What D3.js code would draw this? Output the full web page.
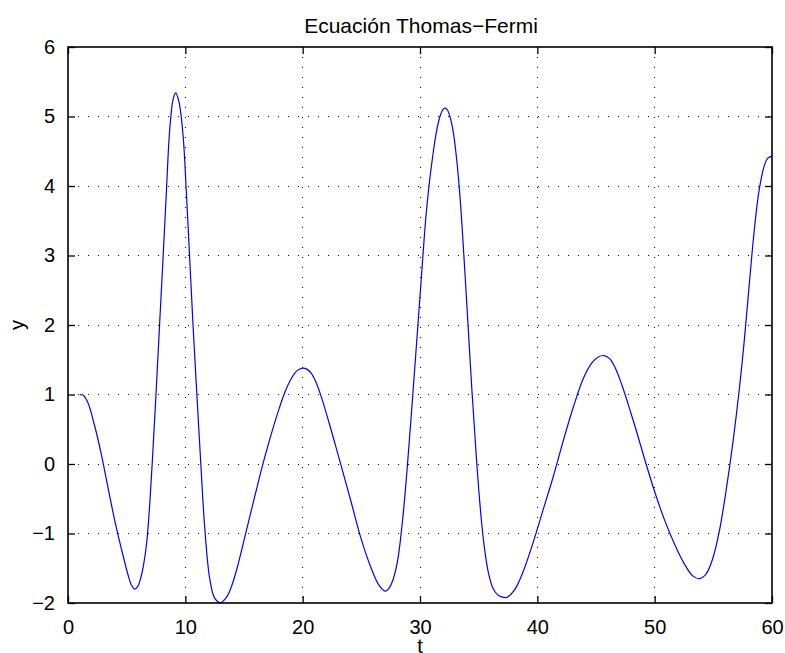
<!DOCTYPE html>
<html>
<head>
<meta charset="utf-8">
<script src="https://cdn.jsdelivr.net/npm/d3@7"></script>
<style>
  body { margin: 0; background: #fff; }
  svg { display: block; }
  text { font-family: "Liberation Sans", Arial, Helvetica, sans-serif; fill: #000; }
</style>
</head>
<body>
<svg id="chart" width="785" height="653"></svg>
<script>
// Labels and ticks
const titleText = "Ecuación Thomas−Fermi";
const xLabelText = "t";
const yLabelText = "y";
const xTickValues = [0, 10, 20, 30, 40, 50, 60];
const yTickValues = [-2, -1, 0, 1, 2, 3, 4, 5, 6];

// Solution samples y(t)
const tValues = [
  1.00, 1.30, 1.70, 2.27, 2.84, 3.41, 3.98, 4.55, 5.11, 5.40,
  5.68, 5.95, 6.20, 6.45, 6.70, 6.95, 7.24, 7.53, 7.81, 8.10,
  8.38, 8.66, 8.95, 9.18, 9.46, 9.80, 10.09, 10.37, 10.65, 10.94,
  11.31, 11.65, 12.07, 12.50, 13.00, 13.50, 14.00, 14.50, 15.00, 15.50,
  16.00, 16.50, 17.00, 17.50, 18.00, 18.50, 19.00, 19.50, 20.00, 20.35,
  20.71, 21.10, 21.56, 22.41, 23.27, 24.12, 24.97, 25.82, 26.53, 27.05,
  27.35, 27.67, 27.95, 28.15, 28.52, 28.89, 29.23, 29.57, 29.90, 30.20,
  30.50, 30.80, 31.10, 31.40, 31.70, 31.95, 32.13, 32.35, 32.60, 32.85,
  33.10, 33.35, 33.60, 33.98, 34.40, 34.83, 35.26, 35.55, 35.85, 36.20,
  36.60, 37.00, 37.39, 38.10, 38.81, 39.66, 40.51, 41.36, 42.22, 43.07,
  43.92, 44.63, 45.20, 45.70, 46.20, 46.70, 47.20, 47.76, 48.47, 49.18,
  50.00, 50.83, 51.69, 52.54, 53.25, 53.82, 54.39, 54.95, 55.52, 56.09,
  56.66, 57.23, 57.65, 58.08, 58.51, 58.93, 59.36, 59.64, 60.00
];
const yValues = [
  1.00, 0.99, 0.88, 0.55, 0.14, -0.34, -0.81, -1.22, -1.59, -1.74,
  -1.80, -1.76, -1.64, -1.44, -1.14, -0.62, 0.20, 1.10, 2.02, 2.96,
  3.90, 4.79, 5.24, 5.34, 5.21, 4.74, 3.90, 2.96, 2.02, 1.13,
  0.03, -0.91, -1.64, -1.93, -1.995, -1.92, -1.73, -1.44, -1.10, -0.75,
  -0.41, -0.07, 0.24, 0.53, 0.80, 1.04, 1.22, 1.34, 1.38, 1.365,
  1.31, 1.19, 0.98, 0.50, -0.02, -0.54, -1.07, -1.49, -1.75, -1.83,
  -1.79, -1.68, -1.51, -1.33, -0.80, -0.10, 0.64, 1.42, 2.18, 2.88,
  3.55, 4.05, 4.45, 4.78, 5.00, 5.10, 5.12, 5.09, 4.97, 4.76,
  4.42, 3.97, 3.38, 2.33, 1.13, 0.03, -0.86, -1.28, -1.58, -1.78,
  -1.88, -1.915, -1.92, -1.80, -1.54, -1.12, -0.65, -0.18, 0.34, 0.82,
  1.23, 1.45, 1.54, 1.56, 1.51, 1.36, 1.14, 0.85, 0.46, 0.05,
  -0.40, -0.80, -1.15, -1.44, -1.61, -1.65, -1.58, -1.36, -0.96, -0.38,
  0.30, 1.10, 1.80, 2.62, 3.40, 3.97, 4.30, 4.40, 4.43
];

const W = 785, H = 653;
const margin = { top: 47, right: 13, bottom: 50, left: 68 };
const innerW = W - margin.left - margin.right;
const innerH = H - margin.top - margin.bottom;

const svg = d3.select("#chart");
svg.append("rect").attr("width", W).attr("height", H).attr("fill", "#fff");

const g = svg.append("g").attr("transform", `translate(${margin.left},${margin.top})`);

const x = d3.scaleLinear().domain([0, 60]).range([0, innerW]);
const y = d3.scaleLinear().domain([-2, 6]).range([innerH, 0]);

const fmt = v => (v < 0 ? "\u2212" + Math.abs(v) : String(v));

// Dotted grid
const grid = g.append("g").attr("class", "grid")
  .attr("stroke", "#000").attr("stroke-width", 1)
  .attr("stroke-dasharray", "1,9").attr("shape-rendering", "crispEdges");
grid.selectAll("line.gx").data(xTickValues.slice(1, -1)).join("line")
  .attr("class", "gx")
  .attr("x1", d => x(d)).attr("x2", d => x(d))
  .attr("y1", 0).attr("y2", innerH);
grid.selectAll("line.gy").data(yTickValues.slice(1, -1)).join("line")
  .attr("class", "gy")
  .attr("x1", 0).attr("x2", innerW)
  .attr("y1", d => y(d)).attr("y2", d => y(d));

// Curve
const line = d3.line()
  .x((d, i) => x(tValues[i]))
  .y(d => y(d))
  .curve(d3.curveCatmullRom.alpha(0.5));
g.append("path")
  .datum(yValues)
  .attr("fill", "none")
  .attr("stroke", "#0000ff")
  .attr("stroke-width", 1.2)
  .attr("stroke-linejoin", "round")
  .attr("d", line);

// Axes with inward ticks on all four sides
const tickLen = 7;
const axisStyle = sel => {
  sel.select(".domain").remove();
  sel.selectAll(".tick line").attr("stroke", "#000").attr("stroke-width", 1.3);
  sel.selectAll("text").style("font-size", "20px");
};
g.append("g").attr("transform", `translate(0,${innerH})`)
  .call(d3.axisBottom(x).tickValues(xTickValues).tickFormat(fmt).tickSizeInner(-tickLen).tickPadding(tickLen + 10))
  .call(axisStyle);
g.append("g")
  .call(d3.axisTop(x).tickValues(xTickValues).tickFormat("").tickSizeInner(-tickLen))
  .call(axisStyle);
g.append("g")
  .call(d3.axisLeft(y).tickValues(yTickValues).tickFormat(fmt).tickSizeInner(-tickLen).tickPadding(tickLen + 6))
  .call(axisStyle);
g.append("g").attr("transform", `translate(${innerW},0)`)
  .call(d3.axisRight(y).tickValues(yTickValues).tickFormat("").tickSizeInner(-tickLen))
  .call(axisStyle);

// Axes box
g.append("rect")
  .attr("width", innerW).attr("height", innerH)
  .attr("fill", "none").attr("stroke", "#000").attr("stroke-width", 1.6);

// Title and axis labels
svg.append("text")
  .attr("x", margin.left + innerW / 2 + 1).attr("y", 33)
  .attr("text-anchor", "middle")
  .style("font-size", "21px")
  .text(titleText);
svg.append("text")
  .attr("x", margin.left + innerW / 2).attr("y", 653)
  .attr("text-anchor", "middle")
  .style("font-size", "20px")
  .text(xLabelText);
svg.append("text")
  .attr("transform", `translate(24,${margin.top + innerH / 2}) rotate(-90)`)
  .attr("text-anchor", "middle")
  .style("font-size", "20px")
  .text(yLabelText);
</script>
</body>
</html>
